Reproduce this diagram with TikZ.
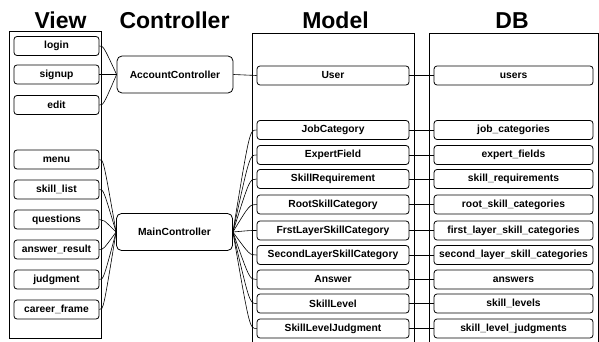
\documentclass[tikz,border=0pt]{standalone}
\usepackage{fontspec}
\setmainfont{Liberation Sans}
\usetikzlibrary{calc}
\begin{document}
\begin{tikzpicture}[x=1pt,y=-1pt,
  col/.style={draw, line width=0.75pt},
  item/.style={draw, rounded corners=3pt, line width=0.8pt, minimum height=19pt, inner sep=0pt, font=\fontsize{10.3}{12}\selectfont\bfseries},
  vitem/.style={item, minimum width=85pt},
  mitem/.style={item, minimum width=152pt},
  ditem/.style={item, minimum width=159pt},
  ctrl/.style={item, minimum width=116pt, minimum height=37pt, rounded corners=5pt},
  head/.style={font=\fontsize{23}{26}\selectfont\bfseries, inner sep=0pt, anchor=base},
  link/.style={line width=0.6pt}
]
\useasboundingbox (0,0) rectangle (599,342);
% headers
\node[head] (hv) at (60.5,28.5) {View};
\node[head] (hc) at (174.5,28.5) {Controller};
\node[head] (hm) at (335.5,28.5) {Model};
\node[head] (hd) at (512,28.5) {DB};
% columns
\draw[col] (9,31) rectangle (101,338);
\draw[col] (252,350) -- (252,33) -- (414,33) -- (414,350);
\draw[col] (429,350) -- (429,33) -- (598,33) -- (598,350);
% view items
\node[vitem] (login) at (56.5,46) {login};
\node[vitem] (signup) at (56.5,74.5) {signup};
\node[vitem] (edit) at (56.5,105) {edit};
\node[vitem] (menu) at (56.5,159.5) {menu};
\node[vitem] (skilllist) at (56.5,189.5) {skill\_list};
\node[vitem] (questions) at (56.5,219.5) {questions};
\node[vitem] (answerresult) at (56.5,249.5) {answer\_result};
\node[vitem] (judgment) at (56.5,279.5) {judgment};
\node[vitem] (careerframe) at (56.5,309.5) {career\_frame};
% controllers
\node[ctrl] (ac) at (175,74.5) {AccountController};
\node[ctrl] (mc) at (174.5,232) {MainController};
% model items
\node[mitem] (user) at (333,75.5) {User};
\node[mitem] (jc) at (333,130) {JobCategory};
\node[mitem] (ef) at (333,155) {ExpertField};
\node[mitem] (sr) at (333,179) {SkillRequirement};
\node[mitem] (rsc) at (333,204.5) {RootSkillCategory};
\node[mitem] (flsc) at (333,230.5) {FrstLayerSkillCategory};
\node[mitem] (slsc) at (333,255) {SecondLayerSkillCategory};
\node[mitem] (ans) at (333,279.5) {Answer};
\node[mitem] (sl) at (333,303.5) {SkillLevel};
\node[mitem] (slj) at (333,328.5) {SkillLevelJudgment};
% db items
\node[ditem] (users) at (513.5,75.5) {users};
\node[ditem] (djc) at (513.5,130) {job\_categories};
\node[ditem] (def) at (513.5,155) {expert\_fields};
\node[ditem] (dsr) at (513.5,179) {skill\_requirements};
\node[ditem] (drsc) at (513.5,204.5) {root\_skill\_categories};
\node[ditem] (dflsc) at (513.5,230.5) {first\_layer\_skill\_categories};
\node[ditem] (dslsc) at (513.5,255) {second\_layer\_skill\_categories};
\node[ditem] (dans) at (513.5,279.5) {answers};
\node[ditem] (dsl) at (513.5,303.5) {skill\_levels};
\node[ditem] (dslj) at (513.5,328.5) {skill\_level\_judgments};
% view -> controllers
\foreach \v in {login,signup,edit}
  \draw[link] (\v.east) .. controls ($(\v.east)+(4,0)$) .. (ac.west);
\foreach \v in {menu,skilllist,questions,answerresult,judgment,careerframe}
  \draw[link] (\v.east) .. controls ($(\v.east)+(4,0)$) .. (mc.west);
% controllers -> model
\draw[link] (ac.east) -- (user.west);
\foreach \m in {jc,ef,sr,rsc,flsc,slsc,ans,sl,slj}
  \draw[link] (mc.east) .. controls ($(\m.west)+(-7,0)$) .. (\m.west);
% model -> db
\foreach \m/\d in {user/users,jc/djc,ef/def,sr/dsr,rsc/drsc,flsc/dflsc,slsc/dslsc,ans/dans,sl/dsl,slj/dslj}
  \draw[link] (\m.east) -- (\d.west);
\end{tikzpicture}
\end{document}
